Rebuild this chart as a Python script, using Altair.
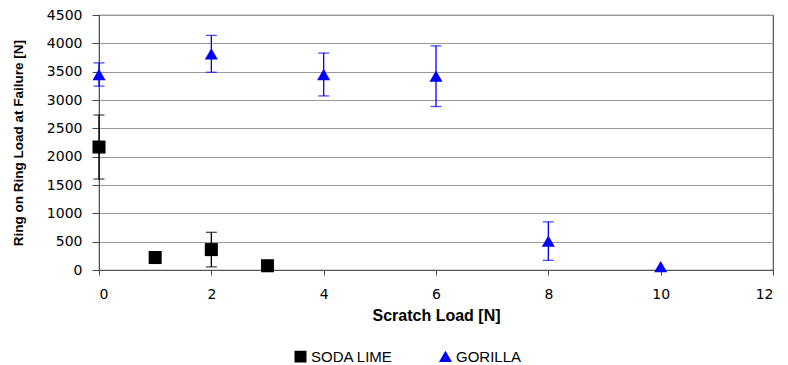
import altair as alt
import pandas as pd

series = ["SODA LIME", "GORILLA"]

soda_x = [0, 1, 2, 3]
soda_mean = [2170, 220, 360, 75]
soda_err = [565, 0, 305, 0]

gor_x = [0, 2, 4, 6, 8, 10]
gor_mean = [3450, 3815, 3450, 3420, 510, 60]
gor_err = [205, 325, 378, 535, 340, 0]

x_ticks = [0, 2, 4, 6, 8, 10, 12]
y_ticks = [0, 500, 1000, 1500, 2000, 2500, 3000, 3500, 4000, 4500]

rows = []
for x, m, e in zip(soda_x, soda_mean, soda_err):
    rows.append({"series": series[0], "x": x, "y": m, "lo": m - e, "hi": m + e, "err": e})
for x, m, e in zip(gor_x, gor_mean, gor_err):
    rows.append({"series": series[1], "x": x, "y": m, "lo": m - e, "hi": m + e, "err": e})
df = pd.DataFrame(rows)

FONT = "Liberation Sans"
NUMFONT = "DejaVu Sans"
xs = alt.Scale(domain=[0, 12], nice=False)
ys = alt.Scale(domain=[0, 4500], nice=False)
cscale = alt.Scale(domain=series, range=["#000000", "#0000ff"])
sscale = alt.Scale(domain=series, range=["square", "triangle-up"])

xaxis = alt.Axis(values=x_ticks, grid=False, format="d", tickSize=5,
                 labelPadding=12, titlePadding=6)
yaxis = alt.Axis(values=y_ticks, grid=True, format="d", tickSize=7,
                 labelPadding=10, titlePadding=21)
legend = alt.Legend(orient="none", direction="horizontal",
                    legendX=194, legendY=334, columns=2,
                    columnPadding=44, symbolSize=110, labelOffset=3,
                    labelFont=FONT, labelFontSize=15, labelColor="#000")


def X(field):
    return alt.X(field, scale=xs, title="Scratch Load [N]", axis=xaxis)


def Y(field):
    return alt.Y(field, scale=ys, title="Ring on Ring Load at Failure [N]", axis=yaxis)


C = alt.Color("series:N", scale=cscale, title=None, legend=legend)
S = alt.Shape("series:N", scale=sscale, title=None, legend=legend)

base = alt.Chart(df)
errdf = base.transform_filter("datum.err > 0")

points = base.mark_point(filled=True, opacity=1, size=170).encode(
    x=X("x:Q"), y=Y("y:Q"), color=C, shape=S,
)
rules = errdf.mark_rule(strokeWidth=1.3).encode(
    x=X("x:Q"), y=Y("lo:Q"), y2="hi:Q", color=C,
)
cap_hi = errdf.mark_tick(orient="horizontal", size=11, thickness=1.3).encode(
    x=X("x:Q"), y=Y("hi:Q"), color=C,
)
cap_lo = errdf.mark_tick(orient="horizontal", size=11, thickness=1.3).encode(
    x=X("x:Q"), y=Y("lo:Q"), color=C,
)

chart = alt.layer(points, rules, cap_hi, cap_lo).properties(
    width=674, height=255,
    autosize=alt.AutoSizeParams(type="none"),
    padding={"left": 91, "top": 7, "right": 7, "bottom": 95},
).configure_view(
    stroke="#555", strokeWidth=1.2
).configure_axis(
    labelFont=NUMFONT, labelFontSize=14, labelColor="#000",
    titleFont=FONT, titleFontWeight="bold", titleColor="#000",
    domainColor="#555", tickColor="#444",
    gridColor="#999", gridWidth=1,
).configure_axisX(
    titleFontSize=16,
).configure_axisY(
    titleFontSize=13.5,
)

chart.save("out.html", embed_options={"renderer": "svg", "actions": False})
